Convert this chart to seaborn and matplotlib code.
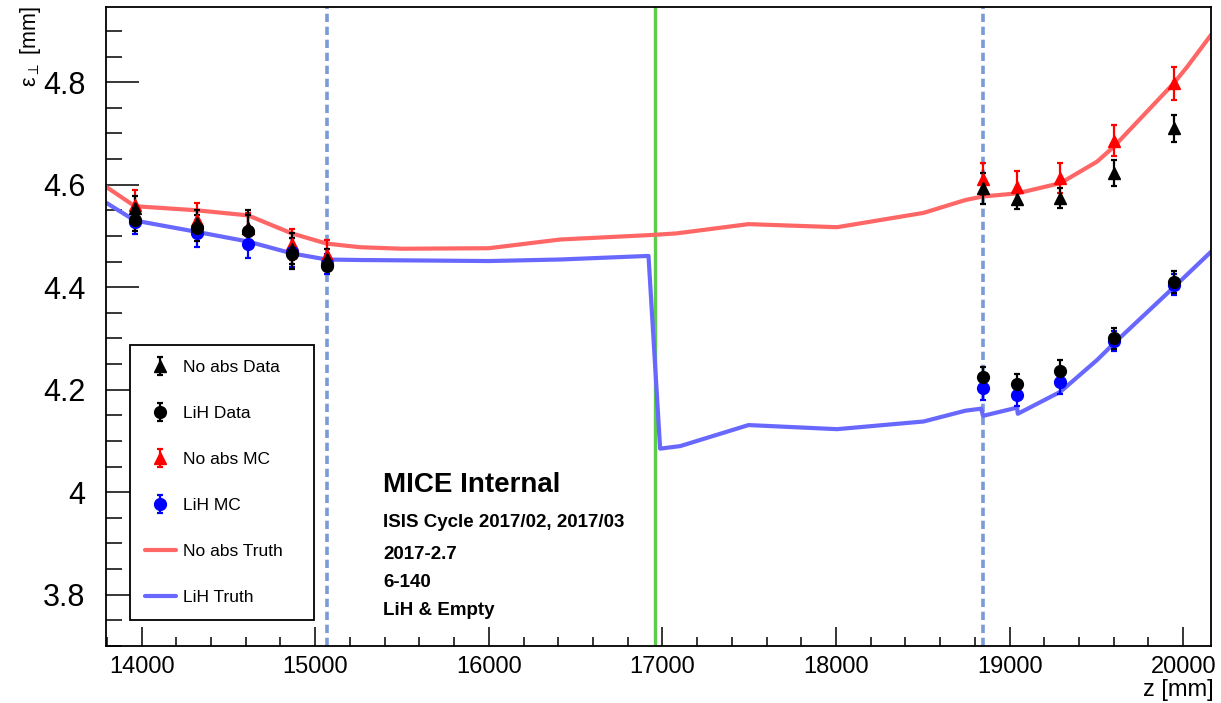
import numpy as np
import pandas as pd
import matplotlib
matplotlib.use("Agg")
import matplotlib.pyplot as plt
from matplotlib.ticker import MultipleLocator
import seaborn as sns

# ---- truth curves (emittance vs z) ----
z_truth_noabs = [13795, 13961, 14317, 14614, 14865, 15066, 15258, 15500, 16000, 16411,
                 16949, 17083, 17496, 18006, 18505, 18745, 18847, 19043, 19293, 19504,
                 19600, 19946, 20023, 20160]
eps_truth_noabs = [4.596, 4.558, 4.550, 4.540, 4.505, 4.485, 4.478, 4.475, 4.476, 4.493,
                   4.502, 4.505, 4.523, 4.517, 4.545, 4.570, 4.577, 4.583, 4.603, 4.645,
                   4.674, 4.798, 4.830, 4.892]

z_truth_lih = [13795, 13961, 14317, 14614, 14865, 15066, 15258, 16000, 16411, 16920,
               16987, 17103, 17496, 18006, 18505, 18745, 18836, 18847, 19043, 19047,
               19293, 19504, 19600, 19946, 20160]
eps_truth_lih = [4.565, 4.530, 4.508, 4.489, 4.466, 4.454, 4.453, 4.451, 4.454, 4.461,
                 4.085, 4.090, 4.131, 4.123, 4.138, 4.159, 4.163, 4.149, 4.165, 4.153,
                 4.196, 4.258, 4.290, 4.400, 4.469]

# ---- tracker stations ----
z_stations = [13961, 14317, 14614, 14865, 15066, 18847, 19043, 19293, 19600, 19946]

noabs_data = [4.555, 4.525, 4.515, 4.475, 4.455, 4.593, 4.572, 4.574, 4.623, 4.710]
noabs_data_err = [0.022, 0.025, 0.035, 0.030, 0.020, 0.030, 0.020, 0.020, 0.025, 0.026]
lih_data = [4.532, 4.515, 4.510, 4.465, 4.442, 4.224, 4.211, 4.237, 4.300, 4.410]
lih_data_err = [0.022, 0.025, 0.030, 0.030, 0.010, 0.020, 0.020, 0.020, 0.020, 0.022]
noabs_mc = [4.560, 4.532, 4.515, 4.484, 4.463, 4.611, 4.596, 4.613, 4.686, 4.798]
noabs_mc_err = [0.030, 0.032, 0.030, 0.030, 0.030, 0.032, 0.030, 0.030, 0.030, 0.032]
lih_mc = [4.528, 4.505, 4.484, 4.468, 4.445, 4.204, 4.189, 4.215, 4.295, 4.405]
lih_mc_err = [0.025, 0.026, 0.028, 0.028, 0.020, 0.025, 0.020, 0.023, 0.020, 0.020]

# reference planes and absorber centre
z_ref_planes = [15067, 18845]
z_absorber = 16955

label_lines = ["ISIS Cycle 2017/02, 2017/03", "2017-2.7", "6-140", "LiH & Empty"]

sns.set_theme(style="white")
plt.rcParams["font.family"] = ["Liberation Sans", "DejaVu Sans"]
plt.rcParams["mathtext.fontset"] = "dejavusans"
for key in ["text.color", "axes.labelcolor", "xtick.color", "ytick.color", "axes.edgecolor"]:
    plt.rcParams[key] = "black"

fig = plt.figure(figsize=(12.21, 7.03), dpi=100)
ax = fig.add_axes([0.0868, 0.0811, 0.9050, 0.9085])

truth = pd.concat([
    pd.DataFrame({"z": z_truth_noabs, "eps": eps_truth_noabs, "set": "No abs Truth"}),
    pd.DataFrame({"z": z_truth_lih, "eps": eps_truth_lih, "set": "LiH Truth"}),
], ignore_index=True)

sns.lineplot(data=truth, x="z", y="eps", hue="set", sort=False, estimator=None,
             palette={"No abs Truth": "#ff6666", "LiH Truth": "#6868ff"},
             linewidth=3.0, ax=ax, legend=False, zorder=2)

for zr in z_ref_planes:
    ax.axvline(zr, color="#7a9ad8", linewidth=2.6, dashes=(2.3, 1.3), zorder=1)
ax.axvline(z_absorber, color="#5ccc4a", linewidth=2.4, zorder=1)

eb_kw = dict(linestyle="none", elinewidth=1.6, capsize=2.2, capthick=1.6, zorder=4)
h_nomc = ax.errorbar(z_stations, noabs_mc, yerr=noabs_mc_err, fmt="^", color="#ff0000",
                     markersize=8.5, **eb_kw)
h_lihmc = ax.errorbar(z_stations, lih_mc, yerr=lih_mc_err, fmt="o", color="#0000ff",
                      markersize=8.5, **eb_kw)
h_nodata = ax.errorbar(z_stations, noabs_data, yerr=noabs_data_err, fmt="^", color="black",
                       markersize=8.5, **eb_kw)
h_lihdata = ax.errorbar(z_stations, lih_data, yerr=lih_data_err, fmt="o", color="black",
                        markersize=8.5, **eb_kw)

h_tn = plt.Line2D([], [], color="#ff6666", linewidth=3.0)
h_tl = plt.Line2D([], [], color="#6868ff", linewidth=3.0)

leg = ax.legend([h_nodata, h_lihdata, h_nomc, h_lihmc, h_tn, h_tl],
                ["No abs Data", "LiH Data", "No abs MC", "LiH MC", "No abs Truth", "LiH Truth"],
                loc="lower left", bbox_to_anchor=(0.0217, 0.0407, 0.1665, 0.4366),
                mode="expand", fontsize=12.5, labelspacing=1.78, handlelength=1.8,
                handletextpad=0.4, borderpad=0.85, fancybox=False, framealpha=1,
                edgecolor="black", borderaxespad=0)
leg.get_frame().set_linewidth(1.3)

ax.set_xlim(13795, 20160)
ax.set_ylim(3.7, 4.946)
ax.xaxis.set_major_locator(MultipleLocator(1000))
ax.xaxis.set_minor_locator(MultipleLocator(200))
ax.yaxis.set_major_locator(MultipleLocator(0.2))
ax.yaxis.set_minor_locator(MultipleLocator(0.05))
ax.set_yticks([3.8, 4.0, 4.2, 4.4, 4.6, 4.8])
ax.set_yticklabels(["3.8", "4", "4.2", "4.4", "4.6", "4.8"])

ax.tick_params(axis="both", which="both", direction="in", top=False, right=False,
               left=True, bottom=True, width=1.1, color="black")
ax.tick_params(axis="y", which="major", length=23.5, labelsize=22, pad=15)
ax.tick_params(axis="y", which="minor", length=11.5)
ax.tick_params(axis="x", which="major", length=13.7, labelsize=17, pad=7)
ax.tick_params(axis="x", which="minor", length=6.8)
for s in ax.spines.values():
    s.set_color("black")
    s.set_linewidth(1.3)

# axis titles placed at the axis ends
ax.set_xlabel("")
ax.set_ylabel("")
fig.text(1214 / 1221, 1 - 690 / 703, "z [mm]", fontsize=17, ha="right", va="center")
fig.text(31 / 1221, 1 - 6 / 703, r"ε$_{\perp}$ [mm]", fontsize=15.5, rotation=90,
         ha="center", va="top")

ax.text(0.2507, 0.252, "MICE Internal", transform=ax.transAxes, fontsize=20,
        fontweight="bold", va="center", ha="left")
for t, yy in zip(label_lines, [0.194, 0.143, 0.100, 0.055]):
    ax.text(0.2507, yy, t, transform=ax.transAxes, fontsize=13.5, fontweight="bold",
            va="center", ha="left")

fig.savefig("out.png", dpi=100)
